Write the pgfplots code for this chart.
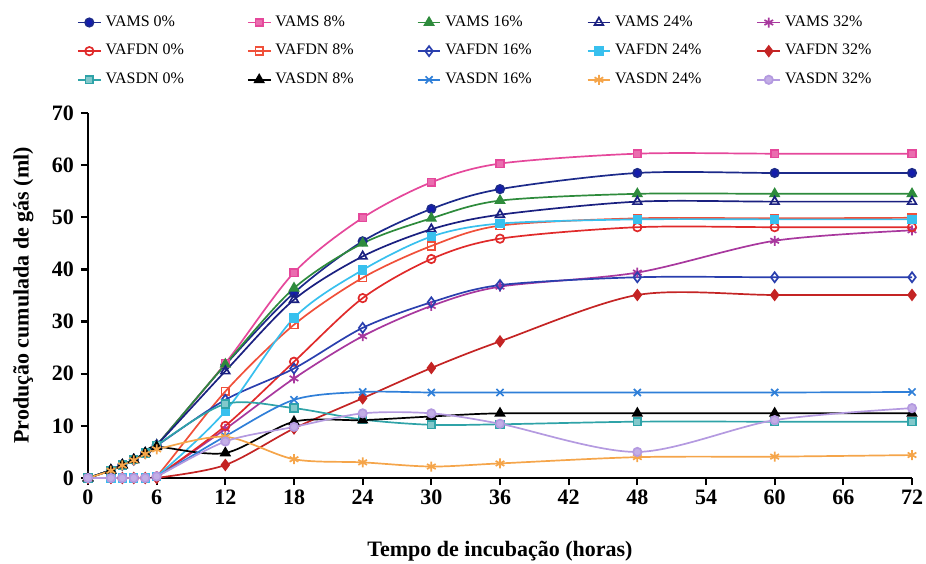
\documentclass[border=0pt]{standalone}
\usepackage{pgfplots}
\usepackage{pgfplotstable}
\pgfplotsset{compat=1.18}
\usepackage{fontspec}
\setmainfont{Liberation Serif}

\definecolor{navyc}{HTML}{1C2A8A}
\definecolor{pinkc}{HTML}{E5489B}
\definecolor{greenc}{HTML}{2E8B3C}
\definecolor{navyb}{HTML}{1A2080}
\definecolor{magc}{HTML}{A8389E}
\definecolor{redc}{HTML}{E02A2A}
\definecolor{orredc}{HTML}{F0503A}
\definecolor{bluec}{HTML}{2A3FAE}
\definecolor{cyanc}{HTML}{38C0EE}
\definecolor{dredc}{HTML}{C42424}
\definecolor{tealc}{HTML}{2FA3A8}
\definecolor{bluexc}{HTML}{2F7FD8}
\definecolor{orangec}{HTML}{F5A54A}
\definecolor{lavc}{HTML}{B49AE0}

\pgfplotstableread{
t  AMSa AMSb AMSc AMSd AMSe AFa AFb AFc AFd AFe ASa ASb ASc ASd ASe
0  0    0    0    0    0    0   0   0   0   0   0   0   0   0   0
2  1.5  1.5  1.5  1.5  0    0   0   1.5 0   0   1.5 1.5 0   1.4 0
3  2.5  2.5  2.5  2.5  0    0   0   2.5 0   0   2.5 2.5 0   2.4 0
4  3.5  3.5  3.5  3.5  0    0   0   3.5 0   0   3.5 3.5 0   3.4 0
5  4.8  4.8  4.8  4.8  0    0   0   4.8 0   0   4.8 4.8 0   4.6 0
6  6.3  6.3  6.3  6.3  0.3  0.3 0.3 6.2 0.3 0   6.3 6.0 0.3 5.5 0.3
12 21.7 22.0 21.8 20.5 9.4  10  16.6 15 12.8 2.5 14.2 4.8 8.0 7.9 7.0
18 35.5 39.4 36.4 34.2 19.1 22.3 29.4 21 30.7 9.5 13.4 10.8 15.0 3.6 9.8
24 45.4 49.9 45.0 42.5 27.2 34.5 38.4 28.8 39.9 15.3 11.2 11.1 16.5 3.0 12.4
30 51.6 56.7 49.8 47.7 33.0 42.0 44.5 33.7 46.3 21.1 10.2 11.8 16.4 2.2 12.4
36 55.4 60.3 53.2 50.5 36.7 45.9 48.4 37.0 48.8 26.2 10.3 12.4 16.4 2.8 10.4
48 58.5 62.2 54.5 53.0 39.4 48.1 49.8 38.5 49.6 35.1 10.8 12.4 16.4 4.0 5.0
60 58.5 62.2 54.5 53.0 45.5 48.1 49.8 38.5 49.6 35.1 10.8 12.4 16.4 4.1 11.1
72 58.5 62.2 54.5 53.0 47.5 48.1 49.9 38.5 49.6 35.1 10.8 12.4 16.5 4.4 13.4
}\datatab

\begin{document}
\begin{tikzpicture}
\begin{axis}[
  name=ax,
  scale only axis,
  width=412pt, height=182.5pt,
  xmin=0, xmax=72, ymin=0, ymax=70,
  xtick={0,6,...,72}, ytick={0,10,...,70},
  axis lines*=left,
  axis line style={line width=1.2pt},
  tick align=outside,
  tick style={line width=1.1pt, black},
  major tick length=3.5pt,
  /pgf/number format/assume math mode=true,
  tick label style={font=\fontsize{11}{12}\selectfont\bfseries},
  xticklabel style={yshift=1pt},
  xlabel={Tempo de incubação (horas)},
  ylabel={Produção cumulada de gás (ml)},
  label style={font=\fontsize{11}{12}\selectfont\bfseries},
  xlabel style={yshift=-11.5pt},
  ylabel style={yshift=2.4pt},
  every axis plot/.append style={line width=0.85pt, smooth, tension=0.5, mark size=2.1pt},
  legend columns=5,
  legend style={draw=none, fill=none, at={(-0.021,1)}, anchor=south west, yshift=9pt,
    font=\fontsize{8}{9}\selectfont, row sep=3.5pt,
    /tikz/every even column/.append style={column sep=0pt}},
  legend cell align=left,
  legend image code/.code={\draw[mark repeat=2,mark phase=2,#1] plot coordinates {(0cm,0cm) (0.2cm,0cm) (0.4cm,0cm)};},
]
\addplot[navyc, mark=*, mark options={fill=navyc!70!blue}] table[x=t,y=AMSa]{\datatab};
\addlegendentry{\makebox[68.7pt][l]{VAMS 0\%}}
\addplot[pinkc, mark=square*, mark size=1.9pt, mark options={fill=pinkc!80!white}] table[x=t,y=AMSb]{\datatab};
\addlegendentry{\makebox[68.7pt][l]{VAMS 8\%}}
\addplot[greenc, mark=triangle*, mark size=2.5pt] table[x=t,y=AMSc]{\datatab};
\addlegendentry{\makebox[68.7pt][l]{VAMS 16\%}}
\addplot[navyb, mark=triangle, mark size=2.5pt, mark options={fill=white}] table[x=t,y=AMSd]{\datatab};
\addlegendentry{\makebox[68.7pt][l]{VAMS 24\%}}
\addplot[magc, mark=asterisk, mark size=2.5pt] table[x=t,y=AMSe]{\datatab};
\addlegendentry{\makebox[50pt][l]{VAMS 32\%}}
\addplot[redc, mark=o, mark options={fill=white}] table[x=t,y=AFa]{\datatab};
\addlegendentry{\makebox[68.7pt][l]{VAFDN 0\%}}
\addplot[orredc, mark=square, mark size=1.9pt, mark options={fill=white}] table[x=t,y=AFb]{\datatab};
\addlegendentry{\makebox[68.7pt][l]{VAFDN 8\%}}
\addplot[bluec, mark=diamond, mark size=2.5pt, mark options={fill=white}] table[x=t,y=AFc]{\datatab};
\addlegendentry{\makebox[68.7pt][l]{VAFDN 16\%}}
\addplot[cyanc, mark=square*, mark size=1.9pt] table[x=t,y=AFd]{\datatab};
\addlegendentry{\makebox[68.7pt][l]{VAFDN 24\%}}
\addplot[dredc, mark=diamond*, mark size=2.5pt] table[x=t,y=AFe]{\datatab};
\addlegendentry{\makebox[50pt][l]{VAFDN 32\%}}
\addplot[tealc, mark=square*, mark size=1.9pt, mark options={fill=tealc!60!white}] table[x=t,y=ASa]{\datatab};
\addlegendentry{\makebox[68.7pt][l]{VASDN 0\%}}
\addplot[black, mark=triangle*, mark size=2.5pt] table[x=t,y=ASb]{\datatab};
\addlegendentry{\makebox[68.7pt][l]{VASDN 8\%}}
\addplot[bluexc, mark=x, mark size=2.5pt] table[x=t,y=ASc]{\datatab};
\addlegendentry{\makebox[68.7pt][l]{VASDN 16\%}}
\addplot[orangec, mark=asterisk, mark size=2.5pt] table[x=t,y=ASd]{\datatab};
\addlegendentry{\makebox[68.7pt][l]{VASDN 24\%}}
\addplot[lavc, mark=*, mark options={fill=lavc!80!white}] table[x=t,y=ASe]{\datatab};
\addlegendentry{\makebox[50pt][l]{VASDN 32\%}}
\end{axis}
\pgfresetboundingbox
\path[use as bounding box] ([shift={(-44pt,-42.5pt)}]ax.south west) rectangle ([shift={(7pt,56.5pt)}]ax.north east);
\end{tikzpicture}
\end{document}
